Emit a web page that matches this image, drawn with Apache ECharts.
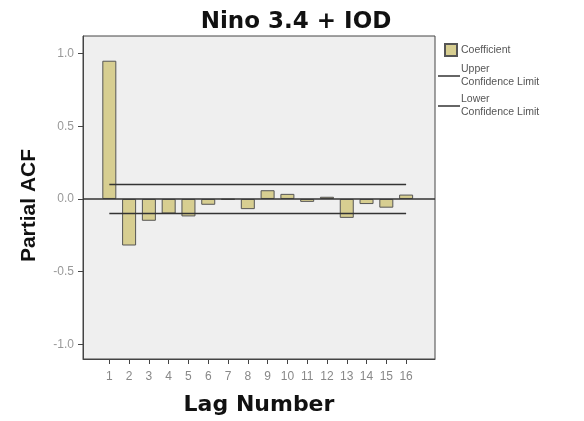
<!DOCTYPE html>
<html>
<head>
<meta charset="utf-8">
<script src="https://cdn.jsdelivr.net/npm/echarts@6/dist/echarts.min.js"></script>
<style>
  html, body { margin: 0; padding: 0; background: #fff; }
  #main { width: 584px; height: 421px; }
</style>
</head>
<body>
<div id="main"></div>
<script>
// lag numbers and partial ACF values
var lags = [1, 2, 3, 4, 5, 6, 7, 8, 9, 10, 11, 12, 13, 14, 15, 16];
var coefficient = [0.95, -0.32, -0.15, -0.10, -0.12, -0.04, -0.005, -0.07, 0.06, 0.035, -0.02, 0.015, -0.13, -0.035, -0.06, 0.03];
var upperLimit = [0.1, 0.1, 0.1, 0.1, 0.1, 0.1, 0.1, 0.1, 0.1, 0.1, 0.1, 0.1, 0.1, 0.1, 0.1, 0.1];
var lowerLimit = [-0.1, -0.1, -0.1, -0.1, -0.1, -0.1, -0.1, -0.1, -0.1, -0.1, -0.1, -0.1, -0.1, -0.1, -0.1, -0.1];
var yTicks = [-1.0, -0.5, 0.0, 0.5, 1.0];

var myChart = echarts.init(document.getElementById('main'));

function pairs(vals) {
    return lags.map(function (l, i) { return [l, vals[i]]; });
}

var font = '"Liberation Sans", Arial, sans-serif';
var boldFont = '"DejaVu Sans", sans-serif';

var option = {
    animation: false,
    textStyle: { fontFamily: font },
    title: {
        text: 'Nino 3.4 + IOD',
        left: 291,
        top: 6,
        textAlign: 'center',
        textStyle: { fontSize: 23, fontWeight: 'bold', color: '#111', fontFamily: boldFont }
    },
    legend: [
        {
            data: [{ name: 'Coefficient', icon: 'rect' }],
            orient: 'vertical',
            left: 439,
            top: 38,
            itemWidth: 12,
            itemHeight: 12,
            itemGap: 4,
            textStyle: { fontSize: 10.5, color: '#555', fontFamily: font, padding: [0, 0, 0, -1] }
        },
        {
            data: [
                { name: 'Upper\nConfidence Limit', icon: 'rect' },
                { name: 'Lower\nConfidence Limit', icon: 'rect' }
            ],
            orient: 'vertical',
            left: 433,
            top: 58,
            itemWidth: 22,
            itemHeight: 1.5,
            itemGap: 4,
            textStyle: { fontSize: 10.5, color: '#555', fontFamily: font, lineHeight: 13, padding: [0, 0, 0, -4] }
        }
    ],
    grid: {
        left: 83,
        right: 149,
        top: 36,
        bottom: 61,
        show: true,
        backgroundColor: '#efefef',
        borderColor: '#444',
        borderWidth: 1
    },
    xAxis: {
        type: 'value',
        min: -0.33,
        max: 17.46,
        name: 'Lag Number',
        nameLocation: 'middle',
        nameGap: 35,
        nameTextStyle: { fontSize: 22, fontWeight: 'bold', color: '#111', fontFamily: boldFont },
        axisLine: { show: true, onZero: false, lineStyle: { color: '#444' } },
        axisTick: { show: true, length: 5, customValues: lags, lineStyle: { color: '#444' } },
        axisLabel: { customValues: lags, fontSize: 12, color: '#888', fontFamily: font, margin: 12 },
        splitLine: { show: false }
    },
    yAxis: {
        type: 'value',
        min: -1.1,
        max: 1.12,
        name: 'Partial ACF',
        nameLocation: 'middle',
        nameGap: 43,
        nameTextStyle: { fontSize: 21, fontWeight: 'bold', color: '#111', fontFamily: font, padding: [0, 16, 0, 0] },
        axisLine: { show: true, onZero: false, lineStyle: { color: '#444' } },
        axisTick: { show: true, length: 5, customValues: yTicks, lineStyle: { color: '#444' } },
        axisLabel: {
            customValues: yTicks,
            fontSize: 12,
            color: '#999',
            fontFamily: font,
            margin: 9,
            formatter: function (v) { return v.toFixed(1); }
        },
        splitLine: { show: false }
    },
    series: [
        {
            name: 'Coefficient',
            type: 'bar',
            barWidth: 14,
            data: pairs(coefficient),
            itemStyle: { color: '#d7ce91', borderColor: '#555', borderWidth: 1 },
            markLine: {
                silent: true,
                symbol: 'none',
                label: { show: false },
                lineStyle: { color: '#333', width: 1.5, type: 'solid' },
                data: [{ yAxis: 0 }]
            }
        },
        {
            name: 'Upper\nConfidence Limit',
            type: 'line',
            symbol: 'none',
            data: pairs(upperLimit),
            lineStyle: { color: '#333', width: 1.5 },
            itemStyle: { color: '#333' }
        },
        {
            name: 'Lower\nConfidence Limit',
            type: 'line',
            symbol: 'none',
            data: pairs(lowerLimit),
            lineStyle: { color: '#333', width: 1.5 },
            itemStyle: { color: '#333' }
        }
    ]
};

myChart.setOption(option);
</script>
</body>
</html>
